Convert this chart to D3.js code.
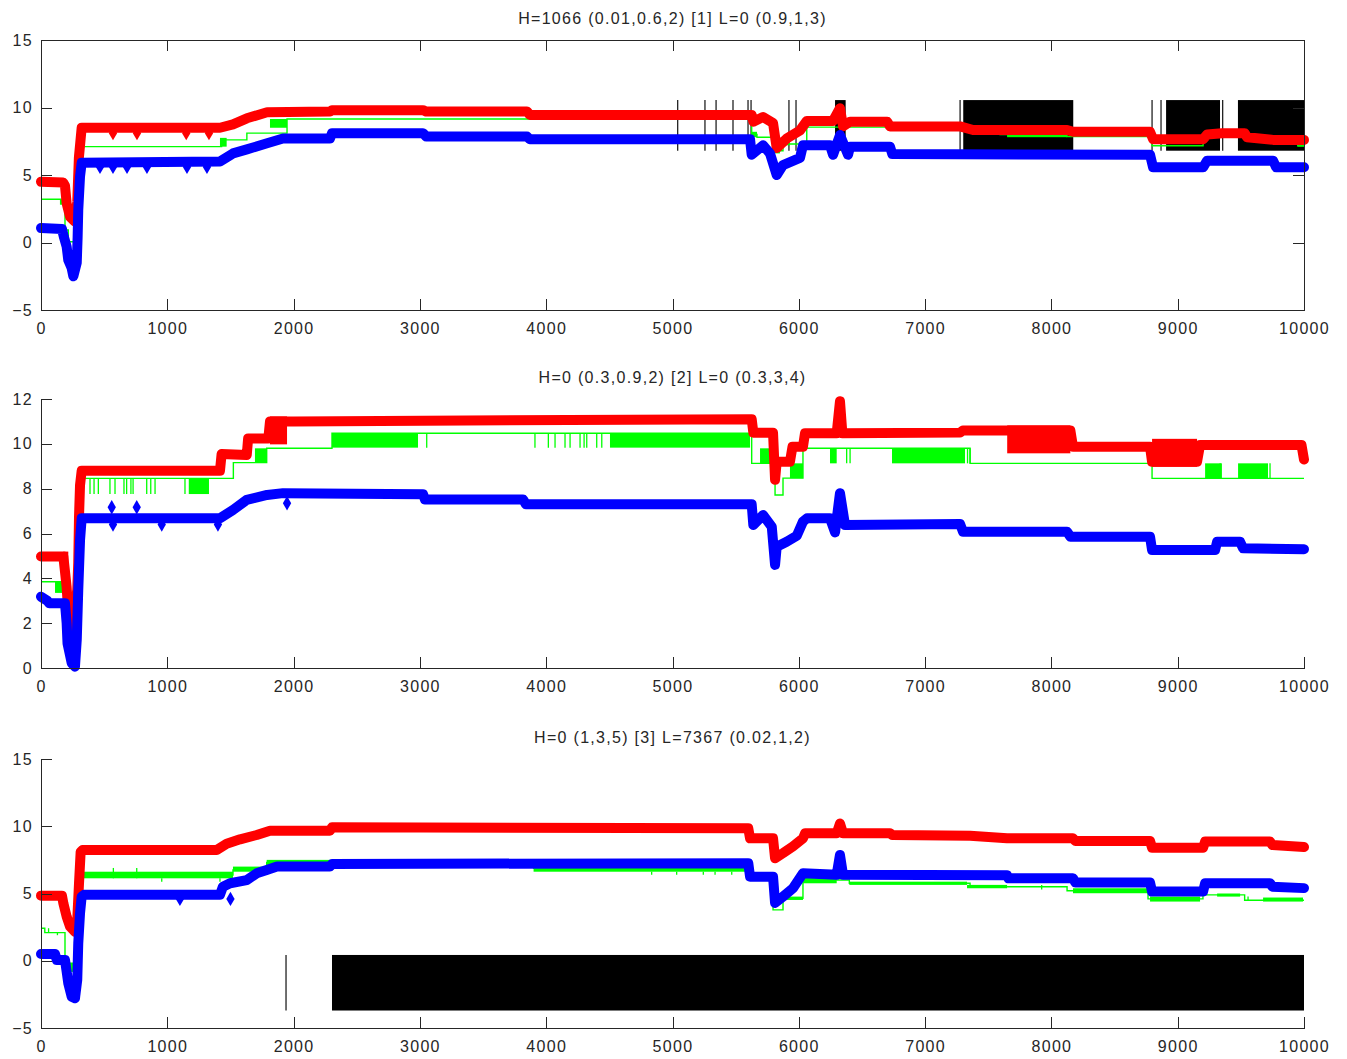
<!DOCTYPE html>
<html>
<head>
<meta charset="utf-8">
<script src="https://cdn.jsdelivr.net/npm/d3@7"></script>
<style>
    body { margin: 0; background: #fff; }
    svg text { font-family: "Liberation Sans", Arial, sans-serif; font-size: 16px; fill: #262626; letter-spacing: 1.3px; }
</style>
</head>
<body>
<div id="chart"></div>
<script>
/*
    THREE STACKED TRACES (red / green / blue) with black marker bands
*/
const xTicks = [0, 1000, 2000, 3000, 4000, 5000, 6000, 7000, 8000, 9000, 10000]
const titles = [
    "H=1066 (0.01,0.6,2) [1] L=0 (0.9,1,3)",
    "H=0 (0.3,0.9,2) [2] L=0 (0.3,3,4)",
    "H=0 (1,3,5) [3] L=7367 (0.02,1,2)"
]
const yTicks1 = [-5, 0, 5, 10, 15]
const yTicks2 = [0, 2, 4, 6, 8, 10, 12]
const yTicks3 = [-5, 0, 5, 10, 15]

// ---- panel 1
const red1 = [[0, 4.5], [175, 4.45], [190, 4.2], [203, 2.9], [230, 1.9], [269, 1.55], [287, 3.0], [300, 6.3], [322, 8.5], [1417, 8.5], [1520, 8.75], [1630, 9.2], [1790, 9.65], [2288, 9.7], [2304, 9.8], [3025, 9.8], [3050, 9.7], [3848, 9.7], [3870, 9.45], [5627, 9.45], [5640, 8.95], [5717, 9.3], [5796, 8.85], [5825, 7.0], [5904, 7.7], [6009, 8.3], [6063, 9.0], [6271, 9.0], [6326, 9.95], [6350, 8.6], [6406, 8.95], [6700, 8.95], [6722, 8.6], [7277, 8.6], [7380, 8.33], [8124, 8.33], [8171, 8.2], [8781, 8.2], [8805, 7.65], [9201, 7.65], [9233, 8.0], [9352, 8.1], [9530, 8.1], [9549, 7.8], [9755, 7.6], [10000, 7.6]]
const blue1 = [[0, 1.07], [166, 1.0], [180, 0.45], [203, -0.3], [216, -1.3], [243, -1.9], [256, -2.5], [283, -1.5], [290, 0.4], [295, 2.4], [309, 4.9], [322, 5.9], [1417, 6.0], [1520, 6.6], [1630, 6.9], [1790, 7.35], [1916, 7.7], [2288, 7.7], [2304, 8.1], [3025, 8.1], [3050, 7.85], [3848, 7.85], [3870, 7.65], [5614, 7.65], [5627, 6.5], [5717, 7.2], [5772, 6.6], [5825, 5.0], [5875, 5.74], [6009, 6.26], [6033, 7.2], [6247, 7.2], [6271, 6.5], [6326, 7.96], [6390, 6.5], [6406, 7.1], [6722, 7.1], [6740, 6.55], [8781, 6.5], [8805, 5.57], [9201, 5.57], [9233, 6.06], [9755, 6.06], [9780, 5.57], [10000, 5.57]]
const green1 = [[0, 3.2], [190, 0.93], [216, 0.06], [283, 0.93], [300, 7.1], [1430, 7.6], [1630, 8.1], [1948, 9.15], [5627, 8.0], [5669, 7.8], [5796, 6.8], [5875, 7.3], [6063, 8.55], [7593, 8.0], [8124, 7.85], [8797, 7.17], [9201, 7.9], [9950, 7.17], [10000, 7.17]]
const greenBlocks1 = [[150, 190, 2.8, 3.2], [1417, 1470, 7.1, 7.75], [1813, 1948, 8.5, 9.15], [5627, 5669, 7.8, 8.2], [5796, 5851, 6.6, 7.0], [5875, 5930, 7.2, 7.4], [7649, 8124, 7.8, 8.1], [9950, 10000, 7.1, 7.25]]
const greenSpikes1 = []
const redDots1 = [[570, 8.1], [760, 8.1], [1150, 8.1], [1330, 8.1]]
const blueDots1 = [[467, 5.6], [570, 5.6], [681, 5.6], [839, 5.6], [1156, 5.6], [1314, 5.6]]
const blackLines1 = [5041, 5257, 5345, 5479, 5598, 5622, 5922, 5978, 7277, 8797, 8868, 9356]
const blackBlocks1 = [[6287, 6371], [7302, 8173], [8908, 9335], [9477, 10000]]
const blackSpan1 = [6.8, 10.55]

// ---- panel 2
const red2 = [[0, 4.97], [177, 4.97], [190, 4.3], [203, 3.6], [210, 3.0], [216, 2.45], [243, 1.83], [269, 2.45], [287, 3.5], [295, 4.7], [301, 6.75], [309, 8.16], [322, 8.8], [1417, 8.8], [1430, 9.55], [1629, 9.5], [1640, 10.24], [1800, 10.24], [1813, 11.0], [2000, 11.0], [5627, 11.1], [5640, 10.5], [5796, 10.5], [5812, 8.4], [5825, 9.2], [5930, 9.2], [5950, 9.87], [6033, 9.87], [6049, 10.47], [6300, 10.47], [6326, 11.9], [6345, 10.47], [7277, 10.5], [7300, 10.6], [8150, 10.6], [8171, 9.87], [8781, 9.87], [8797, 9.2], [9153, 9.2], [9177, 9.95], [9980, 9.95], [10000, 9.3]]
const redBlocks2 = [[177, 216, 4.3, 4.97], [1813, 1948, 10.2, 11.0], [7650, 8150, 9.8, 10.6], [8797, 9153, 9.2, 10.0]]
const blue2 = [[0, 3.18], [50, 3.0], [65, 2.89], [190, 2.89], [203, 2.0], [210, 1.1], [243, 0.22], [269, 0.06], [283, 1.25], [295, 3.48], [309, 5.7], [322, 6.68], [1417, 6.68], [1520, 7.05], [1629, 7.5], [1790, 7.72], [1916, 7.8], [3025, 7.75], [3040, 7.52], [3817, 7.52], [3840, 7.3], [5627, 7.3], [5640, 6.38], [5717, 6.82], [5786, 6.3], [5812, 4.6], [5825, 5.41], [5904, 5.63], [5984, 5.9], [6033, 6.53], [6065, 6.68], [6247, 6.68], [6287, 6.05], [6326, 7.8], [6366, 6.38], [7277, 6.42], [7300, 6.08], [8124, 6.08], [8150, 5.86], [8781, 5.86], [8797, 5.26], [9296, 5.26], [9312, 5.63], [9494, 5.63], [9518, 5.34], [10000, 5.3]]
const green2 = [[0, 3.85], [190, 1.3], [230, 0.8], [309, 8.46], [1523, 9.16], [1787, 9.8], [2304, 10.47], [5627, 9.13], [5812, 7.72], [5875, 8.47], [6033, 9.8], [7356, 9.13], [8797, 8.46], [10000, 8.46]]
const greenBlocks2 = [[111, 190, 3.35, 3.85], [203, 269, 0.65, 1.4], [309, 340, 7.76, 8.46], [1170, 1330, 7.76, 8.46], [1694, 1787, 9.16, 9.8], [2304, 2985, 9.83, 10.47], [4505, 5614, 9.83, 10.47], [5693, 5796, 9.13, 9.8], [5930, 6033, 8.47, 9.13], [6247, 6300, 9.13, 9.8], [6738, 7316, 9.13, 9.8], [9217, 9350, 8.46, 9.13], [9478, 9715, 8.46, 9.13]]
const greenSpikes2 = [[388, 7.76, 8.46], [420, 7.76, 8.46], [454, 7.76, 8.46], [546, 7.76, 8.46], [586, 7.76, 8.46], [657, 7.76, 8.46], [678, 7.76, 8.46], [712, 7.76, 8.46], [729, 7.76, 8.46], [837, 7.76, 8.46], [869, 7.76, 8.46], [903, 7.76, 8.46], [1140, 7.76, 8.46], [3054, 9.83, 10.47], [3911, 9.83, 10.47], [4017, 9.83, 10.47], [4070, 9.83, 10.47], [4149, 9.83, 10.47], [4189, 9.83, 10.47], [4268, 9.83, 10.47], [4300, 9.83, 10.47], [4321, 9.83, 10.47], [4400, 9.83, 10.47], [4440, 9.83, 10.47], [6379, 9.13, 9.8], [6406, 9.13, 9.8], [7336, 9.13, 9.8], [7356, 9.13, 9.8], [9336, 8.46, 9.13], [9731, 8.46, 9.13]]
const redDots2 = []
const blueDots2 = [[560, 7.17], [758, 7.17], [570, 6.4], [956, 6.4], [1401, 6.4], [1948, 7.35]]
const blackLines2 = []
const blackBlocks2 = []
const blackSpan2 = [0, 0]

// ---- panel 3
const red3 = [[0, 4.84], [166, 4.84], [177, 4.27], [203, 3.28], [230, 2.54], [269, 2.16], [287, 3.03], [301, 5.76], [314, 8.1], [330, 8.24], [1391, 8.24], [1470, 8.7], [1576, 9.03], [1708, 9.35], [1813, 9.67], [2288, 9.67], [2304, 9.92], [5600, 9.85], [5614, 9.1], [5796, 9.1], [5812, 7.62], [5875, 8.0], [5954, 8.5], [6033, 9.1], [6050, 9.48], [6300, 9.48], [6326, 10.2], [6350, 9.48], [6722, 9.48], [6740, 9.35], [7356, 9.3], [7649, 9.1], [8171, 9.1], [8190, 8.9], [8781, 8.9], [8797, 8.4], [9201, 8.4], [9217, 8.86], [9731, 8.86], [9750, 8.6], [10000, 8.45]]
const blue3 = [[0, 0.5], [111, 0.5], [125, 0.06], [190, 0.06], [203, -0.81], [216, -1.67], [243, -2.67], [269, -2.79], [287, -1.43], [295, 1.3], [309, 3.53], [322, 4.77], [340, 4.9], [1417, 4.9], [1440, 5.5], [1497, 5.76], [1629, 6.0], [1708, 6.5], [1787, 6.75], [1869, 7.0], [2288, 7.0], [2304, 7.2], [5600, 7.25], [5614, 6.25], [5796, 6.25], [5812, 4.3], [5875, 4.77], [5954, 5.39], [6033, 6.5], [6300, 6.4], [6326, 7.87], [6350, 6.4], [7649, 6.35], [7660, 6.13], [8171, 6.13], [8190, 5.81], [8781, 5.81], [8797, 5.14], [9201, 5.14], [9217, 5.76], [9731, 5.76], [9750, 5.51], [10000, 5.4]]
const green3 = [[0, 2.42], [30, 2.09], [190, -0.19], [283, 1.8], [309, 6.38], [1520, 6.75], [1787, 7.3], [3900, 6.88], [5614, 6.4], [5796, 3.78], [5875, 4.65], [6033, 6.0], [6400, 5.76], [7356, 5.5], [8124, 5.2], [8765, 4.6], [9200, 4.9], [9530, 4.5], [10000, 4.5]]
const greenBlocks3 = [[216, 269, -0.83, -0.19], [309, 1520, 6.13, 6.62], [1520, 1787, 6.62, 7.0], [1787, 3900, 7.1, 7.5], [3900, 5614, 6.62, 6.88], [5614, 5775, 6.0, 6.25], [5875, 6033, 4.52, 4.77], [6033, 6300, 5.76, 6.25], [6400, 7332, 5.64, 5.88], [7332, 7649, 5.39, 5.64], [8171, 8765, 5.02, 5.39], [8781, 9177, 4.4, 4.77], [9312, 9494, 4.77, 5.0], [9676, 9992, 4.4, 4.7]]
const greenSpikes3 = [[60, 2.09, 2.42], [130, 1.9, 2.09], [573, 6.13, 6.9], [758, 6.13, 6.9], [956, 5.88, 6.13], [1417, 5.88, 6.13], [4835, 6.4, 6.62], [5033, 6.4, 6.62], [5244, 6.4, 6.62], [5337, 6.4, 6.62], [5469, 6.4, 6.62], [7923, 5.3, 5.64], [9557, 4.5, 4.77]]
const redDots3 = []
const blueDots3 = [[1100, 4.6], [1500, 4.6]]
const blackLines3 = [1940]
const blackBlocks3 = [[2304, 10000]]
const blackSpan3 = [-3.7, 0.43]

// panel table built from the arrays above
const panels = [
    { title: titles[0], yTicks: yTicks1, red: red1, redBlocks: [], blue: blue1, green: green1, greenBlocks: greenBlocks1, greenSpikes: greenSpikes1, redDots: redDots1, blueDots: blueDots1, blackLines: blackLines1, blackBlocks: blackBlocks1, blackSpan: blackSpan1 },
    { title: titles[1], yTicks: yTicks2, red: red2, redBlocks: redBlocks2, blue: blue2, green: green2, greenBlocks: greenBlocks2, greenSpikes: greenSpikes2, redDots: redDots2, blueDots: blueDots2, blackLines: blackLines2, blackBlocks: blackBlocks2, blackSpan: blackSpan2 },
    { title: titles[2], yTicks: yTicks3, red: red3, redBlocks: [], blue: blue3, green: green3, greenBlocks: greenBlocks3, greenSpikes: greenSpikes3, redDots: redDots3, blueDots: blueDots3, blackLines: blackLines3, blackBlocks: blackBlocks3, blackSpan: blackSpan3 }
]

// layout of the three axes boxes
const width = 1347, height = 1059
const left = 41, right = 1304
const frames = [
    { top: 40, bottom: 310, box: true },
    { top: 399, bottom: 668, box: false },
    { top: 759, bottom: 1028, box: false }
]
const bandWidth = 10
const axisColor = "#262626"

var svg = d3.select("#chart").append("svg")
    .attr("width", width)
    .attr("height", height)

const xScale = d3.scaleLinear().domain([0, 10000]).range([left, right])

const drawPanel = (p, f) => {
    const yTicks = p.yTicks
    const y = d3.scaleLinear()
        .domain([yTicks[0], yTicks[yTicks.length - 1]])
        .range([f.bottom, f.top])
    const g = svg.append("g")

    // black marker bands, drawn first so traces sit on top
    g.selectAll(".blk")
        .data(p.blackBlocks)
        .enter().append("rect")
        .attr("x", d => xScale(d[0]))
        .attr("width", d => xScale(d[1]) - xScale(d[0]))
        .attr("y", y(p.blackSpan[1]))
        .attr("height", y(p.blackSpan[0]) - y(p.blackSpan[1]))
        .attr("fill", "#000")
    g.selectAll(".blkline")
        .data(p.blackLines)
        .enter().append("line")
        .attr("x1", d => xScale(d)).attr("x2", d => xScale(d))
        .attr("y1", y(p.blackSpan[1])).attr("y2", y(p.blackSpan[0]))
        .attr("stroke", "#222")
        .attr("stroke-width", 1.3)

    // green: step line + flicker blocks + spikes
    g.selectAll(".gblk")
        .data(p.greenBlocks)
        .enter().append("rect")
        .attr("x", d => xScale(d[0]))
        .attr("width", d => Math.max(1, xScale(d[1]) - xScale(d[0])))
        .attr("y", d => y(d[3]))
        .attr("height", d => y(d[2]) - y(d[3]))
        .attr("fill", "#00ff00")
    g.selectAll(".gspk")
        .data(p.greenSpikes)
        .enter().append("line")
        .attr("x1", d => xScale(d[0])).attr("x2", d => xScale(d[0]))
        .attr("y1", d => y(d[1])).attr("y2", d => y(d[2]))
        .attr("stroke", "#00ff00")
        .attr("stroke-width", 1.3)
    g.append("path")
        .attr("d", d3.line().curve(d3.curveStepAfter).x(d => xScale(d[0])).y(d => y(d[1]))(p.green))
        .attr("fill", "none")
        .attr("stroke", "#00ff00")
        .attr("stroke-width", 1.4)

    // thick marker bands for red and blue
    const band = d3.line().x(d => xScale(d[0])).y(d => y(d[1]))
    const sym = d3.symbol(d3.symbolDiamond, 60)
    for (let s of [{ pts: p.red, blocks: p.redBlocks, dots: p.redDots, col: "#ff0000" },
                   { pts: p.blue, blocks: [], dots: p.blueDots, col: "#0000ff" }]) {
        g.append("path")
            .attr("d", band(s.pts))
            .attr("fill", "none")
            .attr("stroke", s.col)
            .attr("stroke-width", bandWidth)
            .attr("stroke-linejoin", "round")
            .attr("stroke-linecap", "round")
        g.selectAll(null)
            .data(s.blocks)
            .enter().append("rect")
            .attr("x", d => xScale(d[0]))
            .attr("width", d => xScale(d[1]) - xScale(d[0]))
            .attr("y", d => y(d[3]) - bandWidth / 2)
            .attr("height", d => y(d[2]) - y(d[3]) + bandWidth)
            .attr("fill", s.col)
        // stray points off the band
        g.selectAll(null)
            .data(s.dots)
            .enter().append("path")
            .attr("d", sym)
            .attr("transform", d => `translate(${xScale(d[0])},${y(d[1])})`)
            .attr("fill", s.col)
    }

    // axes, ticks pointing inwards
    const yAxis = g.append("g")
        .attr("transform", `translate(${left},0)`)
        .call(d3.axisLeft(y).tickValues(yTicks).tickSize(-11).tickSizeOuter(0).tickPadding(8))
    const xAxis = g.append("g")
        .attr("transform", `translate(0,${f.bottom})`)
        .call(d3.axisBottom(xScale).tickValues(xTicks).tickSize(-11).tickSizeOuter(0).tickPadding(13).tickFormat(d3.format("d")))
    let axes = [yAxis, xAxis]
    if (f.box) {
        axes.push(g.append("g")
            .attr("transform", `translate(0,${f.top})`)
            .call(d3.axisTop(xScale).tickValues(xTicks).tickSize(-11).tickSizeOuter(0).tickFormat("")))
        axes.push(g.append("g")
            .attr("transform", `translate(${right},0)`)
            .call(d3.axisRight(y).tickValues(yTicks).tickSize(-11).tickSizeOuter(0).tickFormat("")))
    }
    axes.forEach(a => {
        a.selectAll("path, line").attr("stroke", axisColor).attr("shape-rendering", "crispEdges")
        a.selectAll("text").attr("fill", axisColor)
    })

    svg.append("text")
        .attr("x", (left + right) / 2)
        .attr("y", f.top - 22)
        .attr("dy", "0.35em")
        .attr("text-anchor", "middle")
        .text(p.title)
}

panels.forEach((p, i) => drawPanel(p, frames[i]))
</script>
</body>
</html>
